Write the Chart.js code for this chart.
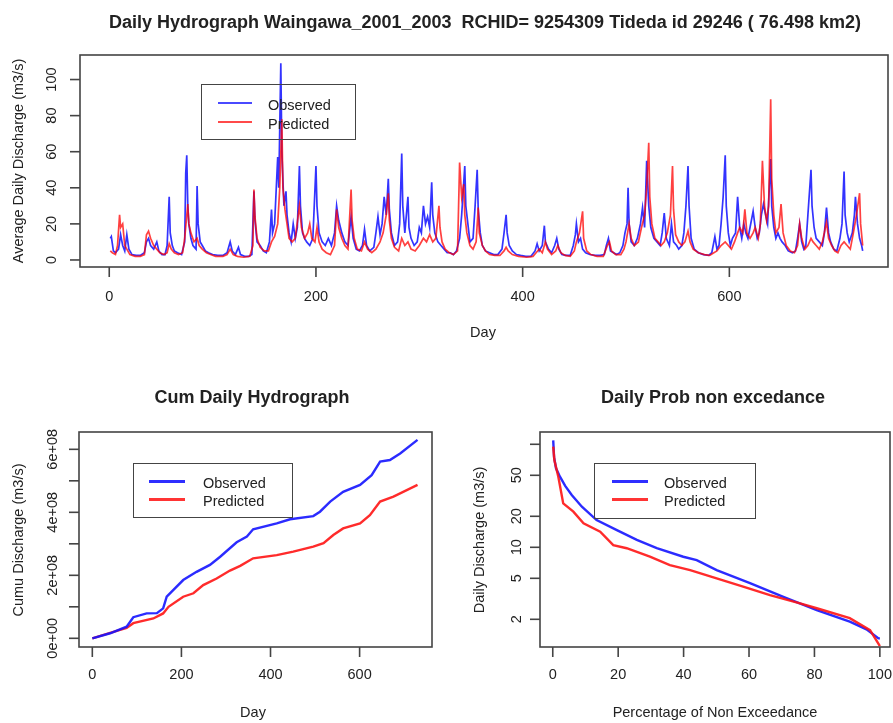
<!DOCTYPE html>
<html><head><meta charset="utf-8">
<script src="https://cdn.jsdelivr.net/npm/chart.js@4.4.1/dist/chart.umd.min.js"></script>
<style>
html,body{margin:0;padding:0;background:#fff;}
body{width:893px;height:723px;position:relative;overflow:hidden;font-family:"Liberation Sans",Arial,sans-serif;color:#222;}
canvas{position:absolute;}
.t{position:absolute;white-space:nowrap;line-height:1;}
.title{font-weight:bold;font-size:18px;transform:translate(-50%,-50%);}
.lab{font-size:14.5px;transform:translate(-50%,-50%);}
.ylab{font-size:14.5px;transform:translate(-50%,-50%) rotate(-90deg);}
.legend{position:absolute;border:1.5px solid #444;box-sizing:border-box;}
.ll{position:absolute;}
.lt{position:absolute;font-size:14.5px;white-space:nowrap;line-height:1;transform:translateY(-50%);}
</style></head><body>
<canvas id="c1" width="893" height="350" style="left:0;top:0"></canvas>
<canvas id="c2" width="446" height="363" style="left:0;top:360px"></canvas>
<canvas id="c3" width="447" height="363" style="left:446px;top:360px"></canvas>

<div class="t title" style="left:485px;top:22px">Daily Hydrograph Waingawa_2001_2003&nbsp; RCHID= 9254309 Tideda id 29246 ( 76.498 km2)</div>
<div class="t ylab" style="left:18px;top:161px">Average Daily Discharge (m3/s)</div>
<div class="t lab" style="left:483px;top:332px">Day</div>
<div class="legend" style="left:201px;top:84px;width:155px;height:56px"></div>
<div class="ll" style="left:218px;top:102px;width:34px;height:2px;background:#4a4aff"></div>
<div class="ll" style="left:218px;top:121px;width:34px;height:2px;background:#ff4a4a"></div>
<div class="lt" style="left:268px;top:105px">Observed</div>
<div class="lt" style="left:268px;top:124px">Predicted</div>

<div class="t title" style="left:252px;top:397px">Cum Daily Hydrograph</div>
<div class="t ylab" style="left:18px;top:540px">Cumu Discharge (m3/s)</div>
<div class="t lab" style="left:253px;top:712px">Day</div>
<div class="legend" style="left:133px;top:463px;width:160px;height:55px"></div>
<div class="ll" style="left:149px;top:479.5px;width:36px;height:3px;background:#2f2fff"></div>
<div class="ll" style="left:149px;top:498px;width:36px;height:3px;background:#ff3434"></div>
<div class="lt" style="left:203px;top:483px">Observed</div>
<div class="lt" style="left:203px;top:501px">Predicted</div>

<div class="t title" style="left:713px;top:397px">Daily Prob non excedance</div>
<div class="t ylab" style="left:479px;top:540px">Daily Discharge (m3/s)</div>
<div class="t lab" style="left:715px;top:712px">Percentage of Non Exceedance</div>
<div class="legend" style="left:594px;top:463px;width:162px;height:56px"></div>
<div class="ll" style="left:612px;top:479.5px;width:36px;height:3px;background:#2f2fff"></div>
<div class="ll" style="left:612px;top:498px;width:36px;height:3px;background:#ff3434"></div>
<div class="lt" style="left:664px;top:483px">Observed</div>
<div class="lt" style="left:664px;top:501px">Predicted</div>

<script>
// ---------- data ----------
// Daily hydrograph: [day, discharge m3/s]
const observedDaily = [[1,12],[2,13],[4,5],[6,4],[9,6],[11,14],[13,8],[15,5],[17,14],[19,6],[22,3],[26,2.5],[30,2.5],[34,4],[36,10],[38,12],[40,8],[43,6],[46,10],[48,5],[51,3],[54,3],[56,8],[58,35],[59,15],[61,8],[63,5],[66,4],[70,3],[73,10],[74,48],[75,58],[76,30],[77,20],[79,12],[81,8],[84,6],[85,41],[86,20],[88,10],[90,8],[93,5],[96,4],[100,3],[105,2.5],[110,2.5],[114,4],[117,10],[119,5],[122,3],[125,7],[127,3],[131,2],[135,2],[138,3],[140,38],[141,22],[143,10],[146,8],[149,5],[152,4],[155,10],[157,28],[158,15],[160,20],[163,57],[164,40],[166,109],[167,60],[169,30],[171,38],[172,25],[174,15],[176,10],[178,20],[180,12],[182,18],[184,52],[185,30],[187,15],[189,12],[191,10],[194,8],[197,12],[200,52],[201,30],[203,15],[206,10],[209,8],[212,12],[215,8],[218,15],[220,30],[222,22],[225,15],[228,10],[231,8],[234,24],[236,12],[239,6],[242,5],[245,8],[247,17],[249,8],[252,5],[256,7],[258,15],[260,24],[262,14],[264,20],[266,35],[268,25],[270,45],[271,28],[273,15],[276,8],[279,10],[281,20],[283,59],[284,30],[286,15],[289,35],[290,18],[292,12],[295,8],[298,10],[300,18],[302,15],[304,30],[306,20],[308,24],[310,18],[312,43],[313,25],[315,15],[318,10],[321,8],[324,6],[327,4],[330,4],[333,3],[336,5],[339,12],[341,25],[344,52],[345,30],[347,20],[349,10],[352,12],[354,30],[356,50],[357,28],[359,15],[361,8],[364,5],[368,4],[372,3],[376,3],[380,6],[382,15],[384,25],[385,15],[387,8],[390,5],[394,3],[398,2.5],[403,2],[408,2],[412,5],[414,9],[416,5],[419,8],[421,19],[422,10],[425,6],[428,4],[431,8],[433,12],[435,6],[438,3],[442,2.5],[446,2.5],[449,8],[451,14],[452,20],[454,10],[456,12],[458,6],[461,4],[465,3],[470,2.5],[475,2.5],[479,3],[481,8],[483,12],[485,5],[488,4],[491,3],[494,4],[497,8],[499,15],[501,20],[502,40],[503,20],[505,10],[508,8],[511,12],[514,20],[516,29],[518,18],[520,55],[522,30],[524,18],[527,12],[530,10],[533,8],[535,15],[537,26],[539,12],[542,8],[544,20],[546,10],[549,8],[551,6],[554,8],[556,15],[558,30],[560,52],[561,30],[563,12],[566,6],[570,4],[575,3],[580,2.5],[583,4],[586,13],[588,6],[590,8],[592,20],[594,35],[596,58],[597,30],[599,15],[601,8],[603,12],[606,15],[608,35],[610,18],[612,12],[614,20],[616,15],[618,12],[620,18],[623,27],[625,18],[627,12],[629,15],[631,25],[633,31],[635,25],[637,20],[640,56],[641,30],[643,18],[645,12],[647,15],[649,12],[651,10],[654,8],[657,5],[661,4],[664,5],[666,12],[668,20],[670,10],[672,6],[674,8],[676,25],[679,50],[680,30],[682,18],[684,12],[687,10],[690,8],[692,15],[694,29],[696,15],[698,10],[701,6],[704,5],[707,12],[709,20],[711,49],[712,25],[714,15],[716,10],[719,15],[721,25],[722,35],[724,20],[726,12],[728,8],[729,5]];
const predictedDaily = [[1,5],[3,4],[6,3],[8,8],[10,25],[11,18],[13,20],[15,8],[17,6],[20,3],[25,2],[30,2],[34,3],[36,14],[38,16],[40,12],[43,8],[46,6],[49,4],[53,3],[56,4],[58,9],[60,6],[63,4],[67,3],[71,4],[73,12],[76,31],[77,20],[79,15],[82,10],[85,12],[87,8],[90,6],[94,4],[98,3],[103,2],[110,2],[114,3],[117,6],[120,3],[124,2],[130,1.5],[136,2],[139,8],[140,39],[141,24],[143,12],[146,7],[150,5],[154,5],[157,10],[160,13],[163,20],[165,40],[167,78],[168,40],[170,28],[172,20],[174,12],[177,10],[180,12],[184,30],[186,18],[189,12],[192,15],[194,20],[196,12],[199,10],[201,18],[203,10],[206,6],[210,4],[214,3],[218,8],[220,28],[222,18],[225,12],[228,8],[231,6],[234,39],[235,22],[237,12],[240,6],[244,5],[247,10],[250,6],[254,4],[258,6],[262,10],[265,15],[268,25],[270,37],[271,22],[273,12],[276,7],[280,5],[283,12],[286,8],[289,10],[292,6],[296,5],[300,8],[304,12],[307,10],[310,14],[313,10],[316,12],[319,30],[320,18],[322,10],[325,6],[329,4],[333,3],[337,5],[339,54],[341,35],[343,42],[344,25],[346,15],[349,8],[352,6],[355,10],[357,29],[358,15],[361,8],[364,5],[368,3],[373,2.5],[378,2.5],[382,5],[384,7],[386,5],[390,3],[396,2],[404,1.5],[410,2],[413,4],[416,6],[419,4],[422,10],[424,6],[428,3],[432,5],[434,8],[437,4],[441,2.5],[446,2],[450,5],[452,10],[455,15],[458,27],[459,12],[462,5],[466,3],[472,2],[478,2],[482,8],[484,10],[486,5],[490,3],[495,3],[498,6],[500,10],[503,20],[505,12],[508,8],[512,10],[515,18],[518,25],[520,40],[522,65],[523,35],[525,20],[528,12],[531,10],[534,8],[537,10],[540,15],[543,25],[545,52],[546,28],[548,14],[551,10],[554,8],[557,10],[560,16],[562,10],[565,6],[570,4],[576,3],[581,2.5],[585,4],[588,5],[592,8],[596,10],[599,8],[602,6],[605,10],[608,15],[610,18],[613,15],[615,28],[617,15],[620,12],[623,15],[625,18],[628,12],[630,20],[632,55],[634,30],[636,22],[638,30],[640,89],[641,45],[643,25],[645,15],[648,18],[650,31],[652,15],[655,8],[659,5],[663,4],[666,8],[668,20],[670,12],[673,6],[676,8],[679,12],[681,10],[684,8],[687,6],[690,10],[694,21],[696,12],[699,8],[702,5],[705,4],[708,8],[711,10],[714,8],[717,6],[720,15],[723,25],[726,37],[727,20],[729,8]];

// Cumulative discharge: [day, cumulative]
const observedCum = [[0,0],[40,0.16e8],[77,0.37e8],[92,0.67e8],[122,0.79e8],[145,0.80e8],[159,0.95e8],[167,1.32e8],[204,1.85e8],[234,2.11e8],[264,2.33e8],[287,2.59e8],[324,3.05e8],[347,3.23e8],[361,3.46e8],[414,3.65e8],[444,3.78e8],[496,3.88e8],[511,4.02e8],[534,4.34e8],[563,4.65e8],[601,4.87e8],[627,5.18e8],[646,5.61e8],[668,5.66e8],[691,5.87e8],[730,6.30e8]];
const predictedCum = [[0,0],[40,0.17e8],[77,0.33e8],[92,0.48e8],[137,0.63e8],[159,0.79e8],[171,1.0e8],[204,1.32e8],[227,1.43e8],[249,1.69e8],[279,1.90e8],[309,2.15e8],[332,2.30e8],[361,2.54e8],[414,2.64e8],[451,2.75e8],[496,2.91e8],[519,3.02e8],[541,3.28e8],[563,3.49e8],[601,3.65e8],[623,3.91e8],[646,4.34e8],[676,4.50e8],[730,4.87e8]];

// Duration curve: [percentage of non exceedance, discharge]
const observedProb = [[0.14,109],[0.4,75],[1.0,58.5],[2.2,48.5],[3.8,39.4],[5.8,32.2],[8.9,24.8],[13.4,18.4],[19.6,14.7],[25.7,11.8],[31.8,9.8],[39.9,8.1],[44,7.5],[50.1,6.0],[60.3,4.5],[70.5,3.3],[80.7,2.46],[90.8,1.90],[95.9,1.60],[99.5,1.31],[100,1.3]];
const predictedProb = [[0.14,95],[0.5,70],[1.7,48.5],[3.2,26.7],[6.3,22.2],[9.4,17.1],[14.5,14.2],[18.5,10.5],[22.6,9.8],[29.7,8.1],[35.8,6.7],[42,6.0],[50.1,5.0],[58.2,4.15],[66.4,3.44],[75.6,2.86],[80.7,2.56],[90.8,2.05],[97,1.57],[99.5,1.17],[100,1.1]];

// Tick values and labels
const hydroXTicks = [0,200,400,600];
const hydroYTicks = [0,20,40,60,80,100];
const cumXTicks = [0,200,400,600];
const cumYTicks = [0,1e8,2e8,3e8,4e8,5e8,6e8];
const cumYLabels = ['0e+00','','2e+08','','4e+08','','6e+08'];
const probXTicks = [0,20,40,60,80,100];
const probYTicks = [2,5,10,20,50,100];
const probYLabels = ['2','5','10','20','50',''];

// ---------- drawing ----------
const toXY = arr => arr.map(p => ({x:p[0], y:p[1]}));
const FONT = '14.5px "Liberation Sans", Arial, sans-serif';

function rAxes(o){
  return {id:'rAxes', afterDraw(chart){
    const ctx = chart.ctx, a = chart.chartArea, xs = chart.scales.x, ys = chart.scales.y;
    ctx.save();
    ctx.strokeStyle = '#444'; ctx.lineWidth = 1.6;
    ctx.strokeRect(a.left, a.top, a.right - a.left, a.bottom - a.top);
    ctx.fillStyle = '#222'; ctx.font = FONT;
    ctx.textAlign = 'center'; ctx.textBaseline = 'middle';
    o.xTicks.forEach((v,i) => {
      const px = xs.getPixelForValue(v);
      ctx.beginPath(); ctx.moveTo(px, a.bottom); ctx.lineTo(px, a.bottom + o.tl); ctx.stroke();
      const lab = o.xLabels ? o.xLabels[i] : String(v);
      ctx.fillText(lab, px, a.bottom + o.xOff);
    });
    o.yTicks.forEach((v,i) => {
      const py = ys.getPixelForValue(v);
      ctx.beginPath(); ctx.moveTo(a.left, py); ctx.lineTo(a.left - o.tl, py); ctx.stroke();
      const lab = o.yLabels ? o.yLabels[i] : String(v);
      if (lab) {
        ctx.save(); ctx.translate(a.left - o.yOff, py); ctx.rotate(-Math.PI/2);
        ctx.fillText(lab, 0, 0); ctx.restore();
      }
    });
    ctx.restore();
  }};
}

function baseOpts(pad, x, y){
  return {
    responsive:false, animation:false, devicePixelRatio:1,
    layout:{padding:pad},
    plugins:{legend:{display:false}, tooltip:{enabled:false}},
    elements:{point:{radius:0}, line:{tension:0}},
    scales:{x:Object.assign({display:false}, x), y:Object.assign({display:false}, y)}
  };
}

new Chart(document.getElementById('c1'), {
  type:'line',
  data:{datasets:[
    {label:'Observed', data:toXY(observedDaily), borderColor:'rgba(0,0,255,0.8)', borderWidth:1.7, order:2},
    {label:'Predicted', data:toXY(predictedDaily), borderColor:'rgba(255,0,0,0.75)', borderWidth:1.7, order:1}
  ]},
  options:baseOpts({left:80, top:55, right:5, bottom:83},
    {type:'linear', min:-28.3, max:753.5},
    {type:'linear', min:-3.9, max:113.6}),
  plugins:[rAxes({xTicks:hydroXTicks, yTicks:hydroYTicks, tl:10, xOff:30, yOff:28})]
});

new Chart(document.getElementById('c2'), {
  type:'line',
  data:{datasets:[
    {label:'Observed', data:toXY(observedCum), borderColor:'rgba(20,20,255,0.9)', borderWidth:2.4, order:1},
    {label:'Predicted', data:toXY(predictedCum), borderColor:'rgba(255,20,20,0.9)', borderWidth:2.4, order:2}
  ]},
  options:baseOpts({left:79, top:72, right:14, bottom:76},
    {type:'linear', min:-29.9, max:762.5},
    {type:'linear', min:-0.276e8, max:6.55e8}),
  plugins:[rAxes({xTicks:cumXTicks, yTicks:cumYTicks, yLabels:cumYLabels, tl:10, xOff:28, yOff:26})]
});

new Chart(document.getElementById('c3'), {
  type:'line',
  data:{datasets:[
    {label:'Observed', data:toXY(observedProb), borderColor:'rgba(20,20,255,0.9)', borderWidth:2.4, order:2},
    {label:'Predicted', data:toXY(predictedProb), borderColor:'rgba(255,20,20,0.9)', borderWidth:2.4, order:1}
  ]},
  options:baseOpts({left:94, top:72, right:3, bottom:76},
    {type:'linear', min:-3.9, max:103.1},
    {type:'logarithmic', min:1.077, max:131.6}),
  plugins:[rAxes({xTicks:probXTicks, yTicks:probYTicks, yLabels:probYLabels, tl:10, xOff:28, yOff:23})]
});
</script>
</body></html>
